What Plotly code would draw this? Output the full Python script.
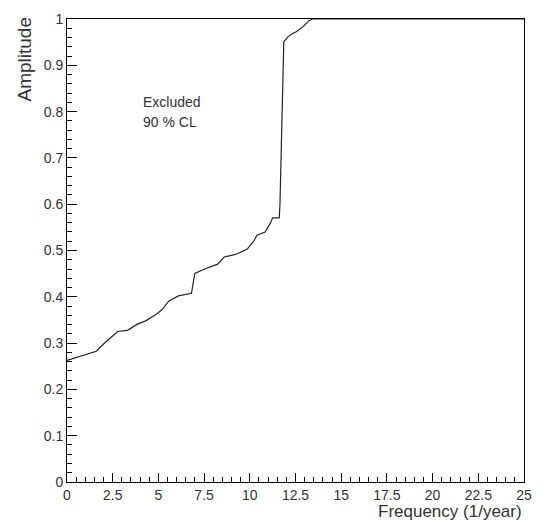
import plotly.graph_objects as go

freq = [0.0, 1.61, 1.97, 2.77, 3.31, 3.85, 4.3, 4.84, 5.19, 5.55, 6.09, 6.81, 6.99,
        7.53, 8.24, 8.6, 9.05, 9.32, 9.86, 10.21, 10.39, 10.84, 11.11, 11.25, 11.61,
        11.65, 11.86, 12.1, 12.27, 12.54, 12.9, 13.26, 13.44, 25.0]
amp = [0.2625, 0.2825, 0.297, 0.325, 0.3275, 0.341, 0.348, 0.361, 0.372, 0.39, 0.402,
       0.4076, 0.4505, 0.46, 0.4705, 0.486, 0.49, 0.493, 0.503, 0.52, 0.533, 0.54,
       0.558, 0.5706, 0.5706, 0.60, 0.951, 0.962, 0.967, 0.9725, 0.983, 0.997, 1.0, 1.0]

x_ticks = [0, 2.5, 5, 7.5, 10, 12.5, 15, 17.5, 20, 22.5, 25]
x_labels = ["0", "2.5", "5", "7.5", "10", "12.5", "15", "17.5", "20", "22.5", "25"]
y_ticks = [0, 0.1, 0.2, 0.3, 0.4, 0.5, 0.6, 0.7, 0.8, 0.9, 1.0]
y_labels = ["0", "0.1", "0.2", "0.3", "0.4", "0.5", "0.6", "0.7", "0.8", "0.9", "1"]

FONT = "Liberation Sans"
TXT = "#333333"

fig = go.Figure()
fig.add_trace(go.Scatter(x=freq, y=amp, mode="lines",
                         line=dict(color="#222222", width=1.2), showlegend=False,
                         hoverinfo="skip"))

axis_common = dict(showgrid=False, zeroline=False, showline=True, linecolor="black",
                   linewidth=1, mirror=True, ticks="inside", tickcolor="black",
                   tickwidth=1, tickfont=dict(family=FONT, size=14, color=TXT))

fig.update_xaxes(range=[0, 25], tickvals=x_ticks, ticktext=x_labels, ticklen=9,
                 minor=dict(ticks="inside", dtick=0.5, ticklen=5, tickcolor="black",
                            showgrid=False),
                 **axis_common)
fig.update_yaxes(range=[0, 1], tickvals=y_ticks, ticktext=y_labels, ticklen=10,
                 minor=dict(ticks="inside", dtick=0.02, ticklen=5, tickcolor="black",
                            showgrid=False),
                 **axis_common)

fig.add_annotation(text="Excluded", xref="x", yref="y", x=3.85, y=0.855,
                   xshift=4, yshift=-6, xanchor="left", yanchor="top", showarrow=False,
                   font=dict(family=FONT, size=14, color=TXT))
fig.add_annotation(text="90 % CL", xref="x", yref="y", x=3.85, y=0.855,
                   xshift=4, yshift=-26, xanchor="left", yanchor="top", showarrow=False,
                   font=dict(family=FONT, size=14, color=TXT))
fig.add_annotation(text="Frequency (1/year)", xref="paper", yref="paper", x=1.0, y=0,
                   yshift=-18, xanchor="right", yanchor="top", showarrow=False,
                   font=dict(family=FONT, size=17, color=TXT))
fig.add_annotation(text="Amplitude", xref="paper", yref="paper", x=0, y=1.0,
                   xshift=-43, yshift=4, xanchor="center", yanchor="top", textangle=-90,
                   showarrow=False, font=dict(family=FONT, size=19, color=TXT))

fig.update_layout(width=543, height=520, plot_bgcolor="white", paper_bgcolor="white",
                  margin=dict(l=67, r=11, t=15, b=38))

fig.write_html("out.html", config={"displayModeBar": False},
               post_script=("document.documentElement.style.margin='0';"
                            "document.documentElement.style.overflow='hidden';"
                            "document.body.style.margin='0';"
                            "document.body.style.overflow='hidden';"))
